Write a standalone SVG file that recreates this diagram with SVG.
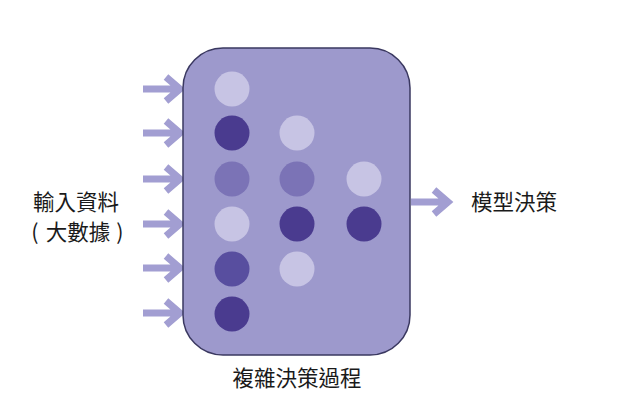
<svg xmlns="http://www.w3.org/2000/svg" width="631" height="416" viewBox="0 0 631 416">
<style>
.lbl{font-family:"Noto Sans CJK TC","Noto Sans CJK SC",sans-serif;font-size:21.5px;fill:#1a1a1a;text-anchor:middle}
.arr{fill:none;stroke:#a29ed2;stroke-width:7}
.l{fill:#c7c4e4}.d{fill:#4a3b8f}.m{fill:#7b73b6}.m2{fill:#584e9f}
</style>
<rect width="631" height="416" fill="#fff"/>
<g id="connectors">
<path class="arr" d="M143 89H178M166 77L180 89L166 101"/>
<path class="arr" d="M143 133H178M166 121L180 133L166 145"/>
<path class="arr" d="M143 179H178M166 167L180 179L166 191"/>
<path class="arr" d="M143 224H178M166 212L180 224L166 236"/>
<path class="arr" d="M143 268H178M166 256L180 268L166 280"/>
<path class="arr" d="M143 313H178M166 301L180 313L166 325"/>
<path class="arr" d="M411 202H446M434 190L448 202L434 214"/>
</g>
<g id="process">
<rect x="183" y="48" width="227" height="307" rx="40" fill="#9d99cc" stroke="#3a3860" stroke-width="1.5"/>
<circle class="l" cx="232" cy="89" r="17.5"/>
<circle class="d" cx="232" cy="133" r="17.5"/>
<circle class="m" cx="232" cy="179" r="17.5"/>
<circle class="l" cx="232" cy="224" r="17.5"/>
<circle class="m2" cx="232" cy="269" r="17.5"/>
<circle class="d" cx="232" cy="314" r="17.5"/>
<circle class="l" cx="297" cy="133" r="17.5"/>
<circle class="m" cx="297" cy="179" r="17.5"/>
<circle class="d" cx="297" cy="224" r="17.5"/>
<circle class="l" cx="297" cy="269" r="17.5"/>
<circle class="l" cx="364" cy="179" r="17.5"/>
<circle class="d" cx="364" cy="224" r="17.5"/>
<text class="lbl" x="297" y="386">複雜決策過程</text>
</g>
<g id="input">
<text class="lbl" x="76" y="210">輸入資料</text>
<text class="lbl" y="240"><tspan x="35">(</tspan><tspan x="78">大數據</tspan><tspan x="120">)</tspan></text>
</g>
<g id="output">
<text class="lbl" x="514" y="210">模型決策</text>
</g>
</svg>
